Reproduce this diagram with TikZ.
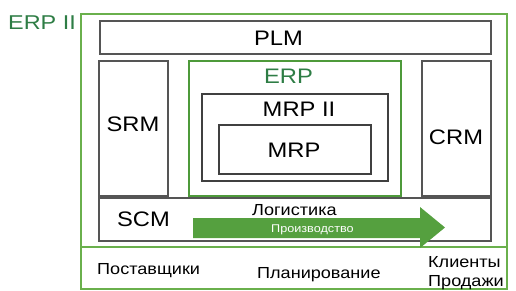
\documentclass[tikz,border=0pt]{standalone}
\usepackage{fontspec}
\setmainfont{Liberation Sans}
\newcommand{\sx}[1]{\scalebox{1.13}[1]{#1}}
\definecolor{lg}{HTML}{6AB04C}
\definecolor{dg}{HTML}{4E9A3A}
\definecolor{tg}{HTML}{2E7D45}
\definecolor{gbox}{HTML}{555555}
\definecolor{arr}{HTML}{55A03F}
\begin{document}
\begin{tikzpicture}[x=1pt,y=-1pt,
  box/.style={draw=gbox, line width=1.2pt, inner sep=0pt, outer sep=0pt},
  gbx/.style={draw=#1, line width=1.5pt, inner sep=0pt, outer sep=0pt},
  big/.style={inner sep=0pt, font=\fontsize{21}{24}\selectfont},
  small/.style={inner sep=0pt, font=\fontsize{16}{18}\selectfont},
]
\useasboundingbox (0,0) rectangle (516,290);
% outer ERP II
\node[gbx=lg, minimum width=426pt, minimum height=275pt] (erp2) at (294,151.5) {};
\draw[lg, line width=1.5pt] (erp2.west |- 0,247) coordinate (sl) -- (erp2.east |- 0,247) coordinate (sr);
\node[big, anchor=west, text=tg, font=\fontsize{20}{24}\selectfont] (erp2t) at (8,23) {\scalebox{1.17}[1]{ERP II}};
% boxes
\node[box, minimum width=391pt, minimum height=33pt] (plm) at (295.5,37.5) {};
\node[box, minimum width=69pt, minimum height=135pt] (srm) at (133.5,128.5) {};
\node[gbx=dg, line width=1.3pt, minimum width=212pt, minimum height=135pt] (erp) at (295,128.5) {};
\node[box, draw=black!75, minimum width=186pt, minimum height=87pt] (mrp2) at (295,137.5) {};
\node[box, draw=black!75, minimum width=152pt, minimum height=49pt] (mrp) at (295,149.5) {};
\node[box, minimum width=69pt, minimum height=135pt] (crm) at (456.5,128.5) {};
\node[box, minimum width=392pt, minimum height=43pt] (scm) at (295,219.5) {};
% labels
\node[big] (plmt) at (278.5,38) {\sx{PLM}};
\node[big] (srmt) at (133,124) {\sx{SRM}};
\node[big] (crmt) at (456,137) {\sx{CRM}};
\node[big, text=tg] (erpt) at (288.5,76) {\sx{ERP}};
\node[big] (mrp2t) at (299,109) {\sx{MRP II}};
\node[big] (mrpt) at (294,150) {\sx{MRP}};
\node[big] (scmt) at (143.5,219.5) {\sx{SCM}};
% arrow
\fill[arr] (193,218) -- (420,218) -- (420,207) -- (445,227.5) -- (420,248) -- (420,238) -- (193,238) -- cycle;
\node[small, anchor=base west] (log) at (252,215.5) {\sx{Логистика}};
\node[inner sep=0pt, font=\fontsize{11.2}{13}\selectfont, text=white, anchor=base west] (proizv) at (271,232) {\sx{Производство}};
% bottom row
\node[small, anchor=base west] (post) at (97,274) {\sx{Поставщики}};
\node[small, anchor=base west] (plan) at (257,278) {\sx{Планирование}};
\node[small, anchor=base west] (kli) at (428,267) {\sx{Клиенты}};
\node[small, anchor=base west] (prod) at (428,286) {\sx{Продажи}};
\end{tikzpicture}
\end{document}
